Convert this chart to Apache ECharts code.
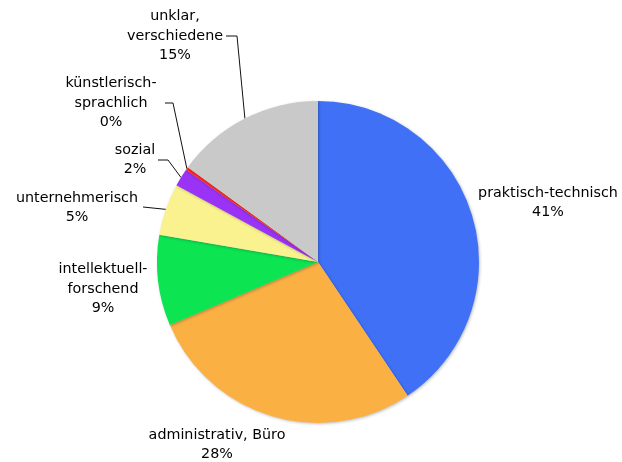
<!DOCTYPE html>
<html>
<head>
<meta charset="utf-8">
<script src="https://cdn.jsdelivr.net/npm/echarts@6/dist/echarts.min.js"></script>
<style>
  html, body { margin: 0; padding: 0; background: #fff; }
  #chart { width: 622px; height: 462px; }
</style>
</head>
<body>
<div id="chart"></div>
<script>
// Interessenbereiche, Anteile in Prozent (im Uhrzeigersinn ab 12 Uhr)
var categories = [
  'praktisch-technisch',
  'administrativ, Büro',
  'intellektuell-\nforschend',
  'unternehmerisch',
  'sozial',
  'künstlerisch-\nsprachlich',
  'unklar,\nverschiedene'
];
var shares = [40.6, 28.0, 9.1, 5.2, 1.8, 0.3, 15.0];
var colors = ['#4070f5', '#fbb044', '#0ce452', '#f9f28f', '#9a33f5', '#ff2a1f', '#c9c9c9'];

// Label placement: text centre plus optional leader elbow / end point
var labelPos = [
  { x: 548, y: 203 },
  { x: 217, y: 445 },
  { x: 103, y: 289 },
  { x: 77,  y: 208, elbow: [143, 207], end: [143, 207], line: true },
  { x: 135, y: 160, elbow: [168, 160], end: [158, 160], line: true },
  { x: 111, y: 103, elbow: [173, 103], end: [165, 103], line: true },
  { x: 175, y: 36,  elbow: [237, 36],  end: [226, 36],  line: true }
];

var chart = echarts.init(document.getElementById('chart'), null, { renderer: 'canvas' });

chart.setOption({
  animation: false,
  series: [{
    type: 'pie',
    center: [318, 262],
    radius: 161,
    startAngle: 90,
    clockwise: true,
    percentPrecision: 0,
    avoidLabelOverlap: false,
    itemStyle: {
      borderWidth: 0,
      shadowBlur: 3,
      shadowOffsetX: 1,
      shadowOffsetY: 1,
      shadowColor: 'rgba(0,0,0,0.25)'
    },
    label: {
      show: true,
      position: 'outside',
      formatter: '{b}\n{d}%',
      fontFamily: 'DejaVu Sans, Verdana, sans-serif',
      fontSize: 14.3,
      lineHeight: 19.5,
      color: '#000',
      align: 'center'
    },
    labelLine: {
      show: true,
      lineStyle: { color: '#111', width: 1 }
    },
    labelLayout: function (params) {
      var p = labelPos[params.dataIndex];
      var out = { x: p.x, y: p.y, align: 'center', verticalAlign: 'middle' };
      if (p.line && params.labelLinePoints) {
        var edge = params.labelLinePoints[0];
        out.labelLinePoints = [edge, p.elbow, p.end];
      } else {
        out.labelLinePoints = [[p.x, p.y], [p.x, p.y], [p.x, p.y]];
      }
      return out;
    },
    data: categories.map(function (name, i) {
      return {
        name: name,
        value: shares[i],
        itemStyle: { color: colors[i] },
        labelLine: { show: !!labelPos[i].line }
      };
    })
  }]
});
</script>
</body>
</html>
